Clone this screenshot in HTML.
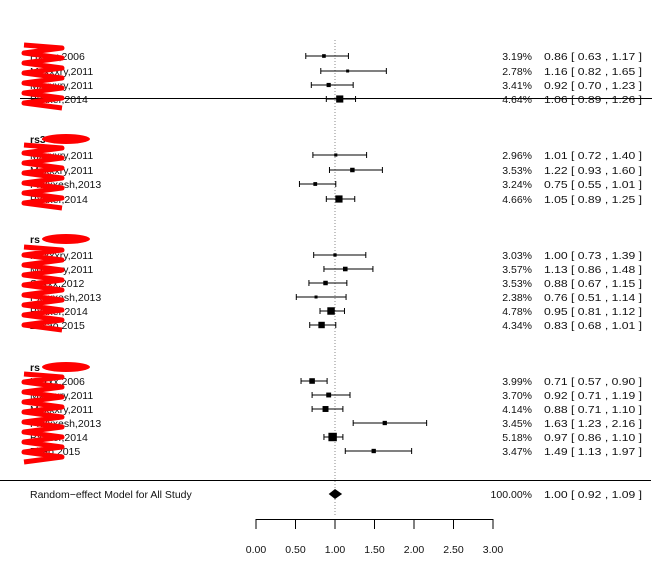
<!DOCTYPE html>
<html><head><meta charset="utf-8"><style>
body{margin:0;background:#fff;width:670px;height:557px;overflow:hidden;font-family:"Liberation Sans",sans-serif}
svg text{font-family:"Liberation Sans",sans-serif;font-size:10.5px;fill:#111}
</style></head><body>
<svg id="c" width="670" height="557"></svg>
<script>
const studies=["Hxxxx,2006","Mxxxxry,2011","Mxxxxry,2011","Bxxxer,2014",
"Mxxxxry,2011","Mxxxxry,2011","Pxxxxesh,2013","Bxxxer,2014",
"Mxxxxry,2011","Mxxxxry,2011","Sxxxx,2012","Pxxxxesh,2013","Bxxxer,2014","Zxxao,2015",
"Hxxxx,2006","Mxxxxry,2011","Mxxxxry,2011","Pxxxxesh,2013","Bxxxer,2014","Zhao,2015"];
const weights=[3.19,2.78,3.41,4.64,2.96,3.53,3.24,4.66,3.03,3.57,3.53,2.38,4.78,4.34,3.99,3.70,4.14,3.45,5.18,3.47];
const est=[0.86,1.16,0.92,1.06,1.01,1.22,0.75,1.05,1.00,1.13,0.88,0.76,0.95,0.83,0.71,0.92,0.88,1.63,0.97,1.49];
const lo=[0.63,0.82,0.70,0.89,0.72,0.93,0.55,0.89,0.73,0.86,0.67,0.51,0.81,0.68,0.57,0.71,0.71,1.23,0.86,1.13];
const hi=[1.17,1.65,1.23,1.26,1.40,1.60,1.01,1.25,1.39,1.48,1.15,1.14,1.12,1.01,0.90,1.19,1.10,2.16,1.10,1.97];
const rowY=[56,71,85,99,155,170,184,199,255,269,283,297,311,325,381,395,409,423,437,451];
const headers=[["rs3",139],["rs",239],["rs",367]];
const ticks=[0,0.5,1,1.5,2,2.5,3];
const pooled={est:1.00,lo:0.92,hi:1.09};
const NS="http://www.w3.org/2000/svg",svg=document.getElementById('c');
const X=v=>256+v*79;
function el(t,a,p){const e=document.createElementNS(NS,t);for(const k in a)e.setAttribute(k,a[k]);(p||svg).appendChild(e);return e;}
const f=v=>v.toFixed(2);
let r=el('line',{x1:X(1),x2:X(1),y1:40,y2:516,stroke:'#888','stroke-dasharray':'1,2'});


let l1=el('line',{x1:20,x2:652,y1:98.5,y2:98.5,stroke:'#000'});


let l2=el('line',{x1:0,x2:651,y1:480.5,y2:480.5,stroke:'#000'});


studies.forEach((s,i)=>{
 const y=rowY[i];
 const g=el('g',{});
 
 
 const t=el('text',{x:30,y:y+4},g);t.textContent=studies[i];
 el('line',{x1:X(lo[i]),x2:X(hi[i]),y1:y,y2:y,stroke:'#000'},g);
 el('line',{x1:X(lo[i]),x2:X(lo[i]),y1:y-3,y2:y+3,stroke:'#000'},g);
 el('line',{x1:X(hi[i]),x2:X(hi[i]),y1:y-3,y2:y+3,stroke:'#000'},g);
 const sz=Math.max(3,weights[i]*2.4-4);
 el('rect',{x:X(est[i])-sz/2,y:y-sz/2,width:sz,height:sz,fill:'#000'},g);
 const w=el('text',{x:532,y:y+4,'text-anchor':'end'},g);w.textContent=f(weights[i])+'%';
 const e=el('text',{x:544,y:y+4,textLength:98,lengthAdjust:'spacingAndGlyphs'},g);e.textContent=f(est[i])+' [ '+f(lo[i])+' , '+f(hi[i])+' ]';
});
headers.forEach(h=>{const t=el('text',{x:30,y:h[1]+4,'font-weight':'bold'});t.textContent=h[0];
 });
const scr=[[24,45,108],[24,145,208],[24,247,330],[24,374,462]];
scr.forEach(s=>{let d='M'+s[0]+' '+s[1];let x=s[0];for(let y=s[1];y<s[2];y+=5){x=(x===s[0]?s[0]+38:s[0]);d+=' L'+x+' '+(y+3)}
 const p=el('path',{d,stroke:'#f00','stroke-width':5,fill:'none','stroke-linejoin':'round'});
 });
headers.forEach(h=>{const o=el('ellipse',{cx:66,cy:h[1],rx:24,ry:5,fill:'#f00'});
 });
const pg=el('g',{});
let t=el('text',{x:30,y:498},pg);t.textContent='Random\u2212effect Model for All Study';
el('polygon',{points:`${X(pooled.lo)},494 ${X(pooled.est)},489 ${X(pooled.hi)},494 ${X(pooled.est)},499`,fill:'#000'},pg);
t=el('text',{x:532,y:498,'text-anchor':'end'},pg);t.textContent='100.00%';
t=el('text',{x:544,y:498,textLength:98,lengthAdjust:'spacingAndGlyphs'},pg);t.textContent=f(pooled.est)+' [ '+f(pooled.lo)+' , '+f(pooled.hi)+' ]';
const ag=el('g',{});
el('line',{x1:X(0),x2:X(3),y1:519.5,y2:519.5,stroke:'#000'},ag);
ticks.forEach(v=>{el('line',{x1:X(v),x2:X(v),y1:519,y2:529,stroke:'#000'},ag);
 const tt=el('text',{x:X(v),y:553,'text-anchor':'middle'},ag);tt.textContent=f(v);});
</script>
</body></html>
